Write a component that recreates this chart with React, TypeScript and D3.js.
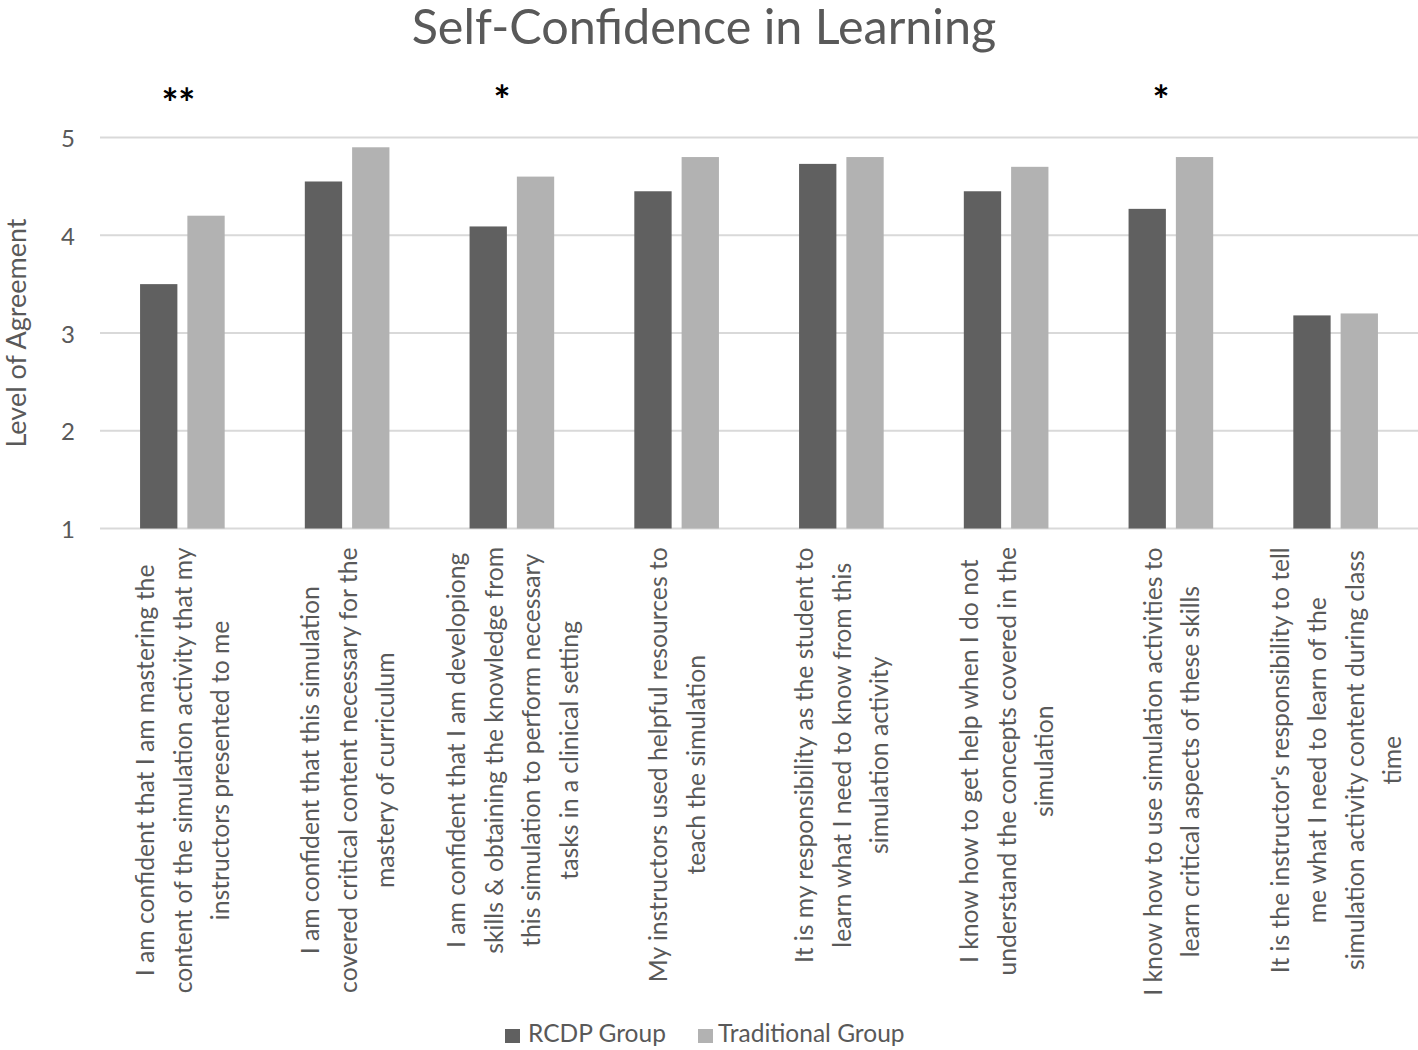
import { useMemo } from "react";
import * as d3 from "d3";

const width = 1418;
const height = 1050;
const marginLeft = 100;
const marginRight = 0;
const plotTop = 137.5;
const plotBottom = 528.5;
const fontFamily = "Lato, 'Open Sans', sans-serif";
const textColor = "#595959";

const categories = [
	["I am confident that I am mastering the", "content of the simulation activity that my", "instructors presented to me"],
	["I am confident that this simulation", "covered critical content necessary for the", "mastery of curriculum"],
	["I am confident that I am developiong", "skills & obtaining the knowledge from", "this simulation to perform necessary", "tasks in a clinical setting"],
	["My instructors used helpful resources to", "teach the simulation"],
	["It is my responsibility as the student to", "learn what I need to know from this", "simulation activity"],
	["I know how to get help when I do not", "understand the concepts covered in the", "simulation"],
	["I know how to use simulation activities to", "learn critical aspects of these skills"],
	["It is the instructor's responsibility to tell", "me what I need to learn of the", "simulation activity content during class", "time"],
];

const seriesNames = ["RCDP Group", "Traditional Group"];
const seriesColors = ["#606060", "#b2b2b2"];
const rcdpValues = [3.5, 4.55, 4.09, 4.45, 4.73, 4.45, 4.27, 3.18];
const traditionalValues = [4.2, 4.9, 4.6, 4.8, 4.8, 4.7, 4.8, 3.2];
const significance = ["**", "", "*", "", "", "", "*", ""];
const yTicks = [1, 2, 3, 4, 5];

const labelFontSize = 24.7;
const lineSpacing = 37.5;
const labelTop = 547;

const measure = (text: string, size: number) => {
	const ctx = document.createElement("canvas").getContext("2d");
	if (!ctx) return text.length * size * 0.45;
	ctx.font = `${size}px Lato`;
	return ctx.measureText(text).width;
};

const App = () => {
	const keys = categories.map((_, i) => String(i));

	// Category bands and the two bars inside each band
	const x0 = d3.scaleBand().domain(keys).range([marginLeft, width - marginRight]).padding(0);
	const x1 = d3
		.scaleBand()
		.domain(seriesNames)
		.range([0, x0.bandwidth()])
		.paddingInner(0.211)
		.paddingOuter(0.847);

	const y = d3.scaleLinear().domain([1, 5]).range([plotBottom, plotTop]);

	const values = [rcdpValues, traditionalValues];

	// longest line of each label, so the block ends just under the axis
	const labelCenters = useMemo(
		() =>
			categories.map((lines) => {
				const maxLen = d3.max(lines, (l) => measure(l, labelFontSize)) || 0;
				return labelTop + maxLen / 2;
			}),
		[]
	);

	return (
		<svg
			width={width}
			height={height}
			style={{ position: "absolute", left: 0, top: 0, display: "block", background: "#fff" }}
			fontFamily={fontFamily}
		>
			<text x={width / 2 - 5} y={44} textAnchor="middle" fontSize={48.5} fill={textColor}>
				Self-Confidence in Learning
			</text>

			<g className="grid">
				{yTicks.map((t) => (
					<line
						key={t}
						x1={marginLeft}
						x2={width - marginRight}
						y1={y(t)}
						y2={y(t)}
						stroke="#d9d9d9"
						strokeWidth={2}
					/>
				))}
			</g>

			<g className="y-ticks">
				{yTicks.map((t) => (
					<text
						key={t}
						x={75}
						y={y(t)}
						textAnchor="end"
						dominantBaseline="central"
						fontSize={24}
						fill={textColor}
					>
						{t}
					</text>
				))}
			</g>

			<text
				transform={`translate(15,${(plotTop + plotBottom) / 2}) rotate(-90)`}
				textAnchor="middle"
				dominantBaseline="central"
				fontSize={27}
				fill={textColor}
			>
				Level of Agreement
			</text>

			<g className="bars">
				{keys.map((k, i) => (
					<g key={k} transform={`translate(${x0(k)},0)`}>
						{seriesNames.map((s, j) => (
							<rect
								key={s}
								x={x1(s)}
								y={y(values[j][i])}
								width={x1.bandwidth()}
								height={y(1) - y(values[j][i])}
								fill={seriesColors[j]}
							/>
						))}
					</g>
				))}
			</g>

			<g className="significance">
				{keys.map((k, i) =>
					significance[i] ? (
						<text
							key={k}
							x={(x0(k) || 0) + x0.bandwidth() / 2 - (significance[i].length > 1 ? 4 : 10)}
							y={significance[i].length > 1 ? 118 : 115}
							textAnchor="middle"
							fontSize={40}
							fontWeight="bold"
							fill="#000"
						>
							{significance[i]}
						</text>
					) : null
				)}
			</g>

			<g className="x-labels">
				{categories.map((lines, i) => {
					const cx = (x0(keys[i]) || 0) + x0.bandwidth() / 2;
					return lines.map((line, li) => (
						<text
							key={`${i}-${li}`}
							transform={`translate(${cx + (li - (lines.length - 1) / 2) * lineSpacing},${labelCenters[i]}) rotate(-90)`}
							textAnchor="middle"
							dominantBaseline="central"
							fontSize={labelFontSize}
							fill={textColor}
						>
							{line}
						</text>
					));
				})}
			</g>

			<g className="legend" transform="translate(505,1029)">
				<rect x={0} y={0} width={15} height={14} fill={seriesColors[0]} />
				<text x={23} y={13} fontSize={24.5} fill={textColor}>
					{seriesNames[0]}
				</text>
				<rect x={193} y={0} width={15} height={14} fill={seriesColors[1]} />
				<text x={213} y={13} fontSize={24.5} fill={textColor}>
					{seriesNames[1]}
				</text>
			</g>
		</svg>
	);
};

export default App;
